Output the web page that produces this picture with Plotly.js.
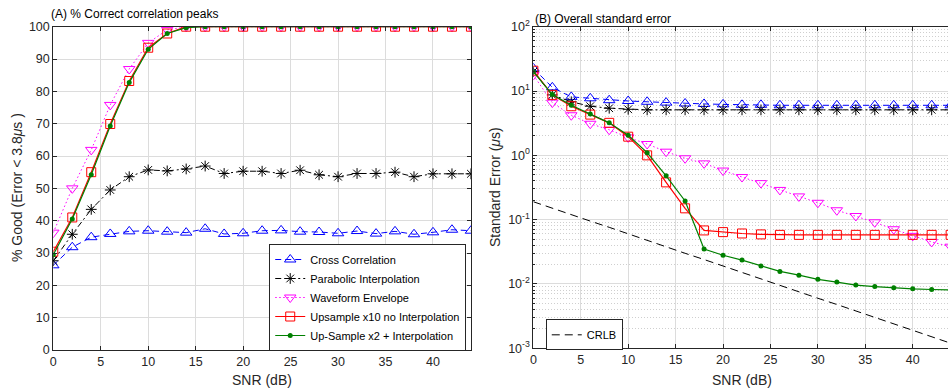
<!DOCTYPE html>
<html>
<head>
<meta charset="utf-8">
<script src="https://cdn.plot.ly/plotly-3.0.1.min.js"></script>
<style>html,body{margin:0;padding:0;background:#fff;}#chart{width:948px;height:388px;}</style>
</head>
<body>
<div id="chart"></div>
<script>
// SNR values (dB)
const snr = [0,2,4,6,8,10,12,14,16,18,20,22,24,26,28,30,32,34,36,38,40,42,44];

// Panel A: % good (error < 3.8 us)
const ccA   = [26.2,31.8,34.9,35.9,36.7,36.9,36.6,36.3,37.5,35.9,36.1,36.9,37.0,36.6,36.5,36.1,36.8,36.0,36.7,35.8,36.4,37.2,36.9];
const parA  = [27.6,35.8,43.5,49.5,53.6,55.7,55.4,56.0,56.9,54.6,55.3,55.3,54.6,55.6,54.2,53.6,54.6,54.6,55.0,53.6,54.5,54.5,54.5];
const envA  = [36.3,50.0,61.9,75.8,86.9,95.0,99.0,100,100,100,100,100,100,100,100,100,100,100,100,100,100,100,100];
const upsA  = [30.4,41.0,55.0,69.9,83.2,93.5,97.9,100,100,100,100,100,100,100,100,100,100,100,100,100,100,100,100];
const up2A  = [29.5,40.5,54.2,69.3,82.7,93.0,97.9,99.7,100,100,100,100,100,100,100,100,100,100,100,100,100,100,100];

// Panel B: standard error (us)
const ccB   = [22.5,11.4,8.1,7.7,7.2,7.0,6.8,6.6,6.4,6.3,6.2,6.1,6.1,6.0,6.0,6.0,6.0,6.0,6.0,6.0,6.0,6.0,6.0];
const parB  = [20.0,8.7,6.8,5.8,5.4,5.2,5.1,5.1,5.1,5.1,5.1,5.1,5.1,5.1,5.1,5.1,5.1,5.1,5.1,5.1,5.1,5.1,5.1];
const envB  = [17.7,6.6,4.2,3.1,2.5,1.9,1.5,1.14,0.90,0.75,0.58,0.46,0.37,0.29,0.23,0.183,0.14,0.114,0.091,0.071,0.056,0.045,0.038];
const upsB  = [20.7,8.7,5.8,4.3,3.2,1.95,1.0,0.38,0.15,0.068,0.064,0.061,0.059,0.058,0.058,0.058,0.058,0.058,0.058,0.058,0.058,0.058,0.058];
const up2B  = [20.0,8.8,6.0,4.4,3.2,2.05,1.1,0.48,0.195,0.035,0.028,0.0235,0.019,0.0157,0.0137,0.0118,0.0107,0.0096,0.0091,0.0087,0.0084,0.0082,0.0081];
const crlbB = [0.19,0.15,0.12,0.095,0.076,0.060,0.048,0.038,0.030,0.024,0.019,0.015,0.012,0.0095,0.0076,0.0060,0.0048,0.0038,0.0030,0.0024,0.0019,0.0015,0.0012];

// Labels
const seriesNames = ['Cross Correlation','Parabolic Interpolation','Waveform Envelope','Upsample x10 no Interpolation','Up-Sample x2 + Interpolation'];
const crlbName = 'CRLB';
const titleA = '(A) % Correct correlation peaks';
const titleB = '(B) Overall standard error';
const yTitleA = '% Good (Error < 3.8<i>μ</i>s )';
const yTitleB = 'Standard Error (<i>μ</i>s)';
const xTitle = 'SNR (dB)';
const linTickX = [0,5,10,15,20,25,30,35,40];
const linTickY = [0,10,20,30,40,50,60,70,80,90,100];
const logTickVals = [0.001,0.01,0.1,1,10,100];
const logTickText = ['10<sup>-3</sup>','10<sup>-2</sup>','10<sup>-1</sup>','10<sup>0</sup>','10<sup>1</sup>','10<sup>2</sup>'];
const logMinorVals = [];
for (const d of [0.001,0.01,0.1,1,10]) for (let k=2;k<=9;k++) logMinorVals.push(d*k);

const styles = [
  {line:{color:'#0000ff',width:1,dash:'6px,4px'}, marker:{symbol:'triangle-up-open',size:10,color:'#0000ff',line:{width:1}}},
  {line:{color:'#000000',width:1,dash:'6px,3px,2px,3px'}, marker:{symbol:'asterisk-open',size:9,color:'#000000',line:{width:1,color:'#000000'}}},
  {line:{color:'#ff00ff',width:1,dash:'1.5px,2.5px'}, marker:{symbol:'triangle-down-open',size:10,color:'#ff00ff',line:{width:1}}},
  {line:{color:'#ff0000',width:1.2}, marker:{symbol:'square-open',size:9,color:'#ff0000',line:{width:1}}},
  {line:{color:'#008000',width:1.2}, marker:{symbol:'circle',size:5,color:'#008000'}}
];
const dataA = [ccA,parA,envA,upsA,up2A];
const dataB = [ccB,parB,envB,upsB,up2B];

const traces = [];
dataA.forEach((ys,i)=>{
  traces.push({x:snr,y:ys,type:'scatter',mode:'lines+markers',name:seriesNames[i],
    line:styles[i].line,marker:styles[i].marker,xaxis:'x',yaxis:'y',legend:'legend',showlegend:true});
});
dataB.forEach((ys,i)=>{
  traces.push({x:snr,y:ys,type:'scatter',mode:'lines+markers',name:seriesNames[i],
    line:styles[i].line,marker:styles[i].marker,xaxis:'x2',yaxis:'y2',showlegend:false});
});
traces.push({x:snr,y:crlbB,type:'scatter',mode:'lines',name:crlbName,
  line:{color:'#000000',width:1,dash:'8px,5px'},xaxis:'x2',yaxis:'y2',legend:'legend2',showlegend:true});

const ink = '#262626';
const grid = '#dcdcdc';
const fam = '"Liberation Sans", Arial, sans-serif';
const font = {family:fam,size:12.5,color:ink};
const baseAxis = {showline:true,linecolor:ink,linewidth:1,ticks:'inside',ticklen:4,tickcolor:ink,
  showgrid:true,gridcolor:grid,gridwidth:1,zeroline:false,tickfont:font};

const layout = {
  width:948,height:388,margin:{l:0,r:0,t:0,b:0},paper_bgcolor:'#fff',plot_bgcolor:'#fff',
  font:font,
  xaxis:Object.assign({},baseAxis,{domain:[0.0562,0.4968],range:[0,44],tickmode:'array',tickvals:linTickX,mirror:'ticks',anchor:'y'}),
  yaxis:Object.assign({},baseAxis,{domain:[0.0979,0.9312],range:[0,100],tickmode:'array',tickvals:linTickY,mirror:'ticks',anchor:'x'}),
  xaxis2:Object.assign({},baseAxis,{domain:[0.5626,1],range:[0,43.72],tickmode:'array',tickvals:linTickX,mirror:'ticks',anchor:'y2'}),
  yaxis2:Object.assign({},baseAxis,{domain:[0.1023,0.9312],type:'log',range:[-3,2],tickmode:'array',tickvals:logTickVals,ticktext:logTickText,mirror:false,anchor:'x2',
    minor:{tickmode:'array',tickvals:logMinorVals,showgrid:true,gridcolor:'#cfcfcf',griddash:'1px,2px',gridwidth:1,ticks:'inside',ticklen:2,tickcolor:ink}}),
  legend:{x:0.284,y:1-244/388,xanchor:'left',yanchor:'top',bgcolor:'#fff',bordercolor:ink,borderwidth:1,
    font:{family:fam,size:11,color:'#000'},tracegroupgap:0,itemwidth:30},
  legend2:{x:0.5757,y:0.177,xanchor:'left',yanchor:'top',bgcolor:'#fff',bordercolor:ink,borderwidth:1,
    font:{family:fam,size:11,color:'#000'}},
  annotations:[
    {text:titleA,xref:'paper',yref:'paper',x:49/948,y:1-14/388,xanchor:'left',yanchor:'middle',showarrow:false,font:{family:fam,size:12,color:'#000'}},
    {text:titleB,xref:'paper',yref:'paper',x:533/948,y:1-19/388,xanchor:'left',yanchor:'middle',showarrow:false,font:{family:fam,size:12,color:'#000'}},
    {text:xTitle,xref:'paper',yref:'paper',x:262/948,y:1-380/388,xanchor:'center',yanchor:'middle',showarrow:false,font:{family:fam,size:14,color:ink}},
    {text:xTitle,xref:'paper',yref:'paper',x:742/948,y:1-380/388,xanchor:'center',yanchor:'middle',showarrow:false,font:{family:fam,size:14,color:ink}},
    {text:yTitleA,xref:'paper',yref:'paper',x:17/948,y:1-188/388,xanchor:'center',yanchor:'middle',textangle:-90,showarrow:false,font:{family:fam,size:14,color:ink}},
    {text:yTitleB,xref:'paper',yref:'paper',x:495/948,y:1-187/388,xanchor:'center',yanchor:'middle',textangle:-90,showarrow:false,font:{family:fam,size:14,color:ink}}
  ]
};

Plotly.newPlot('chart',traces,layout,{displayModeBar:false,staticPlot:true});
</script>
</body>
</html>
